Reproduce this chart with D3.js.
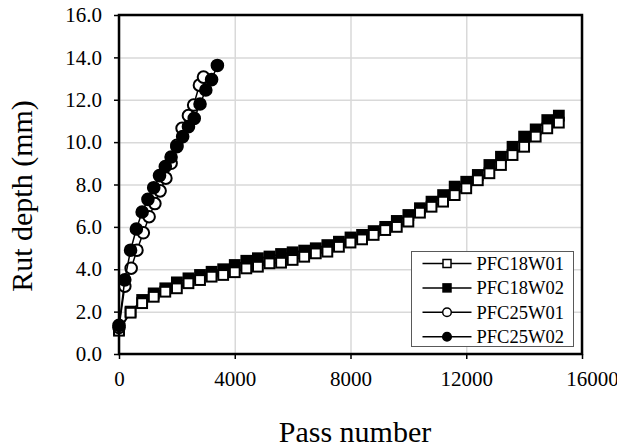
<!DOCTYPE html>
<html>
<head>
<meta charset="utf-8">
<script src="https://cdn.jsdelivr.net/npm/d3@7"></script>
<style>
  html, body { margin: 0; padding: 0; background: #fff; }
  svg { display: block; }
</style>
</head>
<body>
<svg id="chart" width="617" height="448"></svg>
<script>
// Pass numbers for each series
var passes18 = [0, 400, 800, 1200, 1600, 2000, 2400, 2800, 3200, 3600, 4000, 4400, 4800, 5200,
    5600, 6000, 6400, 6800, 7200, 7600, 8000, 8400, 8800, 9200, 9600, 10000, 10400, 10800,
    11200, 11600, 12000, 12400, 12800, 13200, 13600, 14000, 14400, 14800, 15200];
var passes25W01 = [0, 200, 420, 620, 840, 1040, 1240, 1420, 1620, 1800, 2000, 2180, 2400, 2580, 2780, 2920];
var passes25W02 = [0, 200, 400, 600, 800, 1000, 1200, 1400, 1600, 1800, 2000, 2200, 2400, 2600, 2800, 3000, 3200, 3400];

// Rut depth (mm)
var rutPFC18W01 = [1.1, 1.95, 2.4, 2.7, 2.94, 3.1, 3.34, 3.49, 3.65, 3.73, 3.86, 4.04, 4.12, 4.28,
    4.31, 4.44, 4.59, 4.75, 4.83, 5.06, 5.26, 5.41, 5.62, 5.85, 6.0, 6.25, 6.67, 6.95,
    7.19, 7.5, 7.82, 8.2, 8.53, 8.92, 9.39, 9.78, 10.26, 10.65, 10.92];
var rutPFC18W02 = [1.15, 2.0, 2.55, 2.86, 3.1, 3.38, 3.57, 3.73, 3.88, 4.0, 4.2, 4.4, 4.52, 4.6,
    4.72, 4.8, 4.88, 4.99, 5.14, 5.3, 5.5, 5.62, 5.8, 6.0, 6.28, 6.56, 6.88, 7.19,
    7.5, 7.9, 8.13, 8.45, 8.92, 9.31, 9.78, 10.26, 10.6, 11.04, 11.25];
var rutPFC25W01 = [1.25, 3.2, 4.05, 4.9, 5.72, 6.48, 7.1, 7.7, 8.3, 9.0, 9.85, 10.65, 11.25, 11.75, 12.69, 13.07];
var rutPFC25W02 = [1.35, 3.5, 4.9, 5.9, 6.7, 7.3, 7.85, 8.42, 8.85, 9.3, 9.78, 10.26, 10.73, 11.12,
    11.8, 12.46, 12.95, 13.62];

var xTicks = [0, 4000, 8000, 12000, 16000];
var yTicks = [0, 2, 4, 6, 8, 10, 12, 14, 16];

var seriesNames = ["PFC18W01", "PFC18W02", "PFC25W01", "PFC25W02"];
var seriesShapes = ["square", "square", "circle", "circle"];
var seriesFilled = [false, true, false, true];

var FONT = "Liberation Serif";

function init() {
    var w = 617;
    var h = 448;
    var margin = { top: 15, right: 35, bottom: 94, left: 119 };
    var width = w - margin.left - margin.right,
        height = h - margin.top - margin.bottom;

    var svg = d3.select("#chart");

    var x = d3.scaleLinear().domain([0, 16000]).range([0, width]);
    var y = d3.scaleLinear().domain([0, 16]).range([height, 0]);

    var g = svg.append("g")
        .attr("transform", `translate(${margin.left},${margin.top})`);

    // Gridlines
    g.append("g")
        .attr("class", "grid")
        .call(d3.axisLeft(y).tickValues(yTicks).tickSize(-width).tickFormat(""))
        .call(s => s.select(".domain").remove())
        .selectAll("line").attr("stroke", "#d9d9d9").attr("stroke-width", 1.5);
    g.append("g")
        .attr("class", "grid")
        .attr("transform", `translate(0,${height})`)
        .call(d3.axisBottom(x).tickValues(xTicks).tickSize(-height).tickFormat(""))
        .call(s => s.select(".domain").remove())
        .selectAll("line").attr("stroke", "#d9d9d9").attr("stroke-width", 1.5);

    // Series data
    var series = [
        { name: seriesNames[0], xs: passes18, ys: rutPFC18W01 },
        { name: seriesNames[1], xs: passes18, ys: rutPFC18W02 },
        { name: seriesNames[2], xs: passes25W01, ys: rutPFC25W01 },
        { name: seriesNames[3], xs: passes25W02, ys: rutPFC25W02 }
    ].map((s, i) => ({
        name: s.name,
        shape: seriesShapes[i],
        filled: seriesFilled[i],
        points: s.xs.map((p, j) => ({ x: p, y: s.ys[j] }))
    }));

    var line = d3.line().x(d => x(d.x)).y(d => y(d.y));

    // draw order: filled squares, open squares, open circles, filled circles
    var order = [1, 0, 2, 3];
    order.forEach(i => {
        var s = series[i];
        var sg = g.append("g").attr("class", "series");
        sg.append("path")
            .datum(s.points)
            .attr("d", line)
            .attr("fill", "none")
            .attr("stroke", "#000")
            .attr("stroke-width", 1.5);
        drawMarkers(sg, s, 9.8, 5.8, 2);
    });

    function drawMarkers(sel, s, side, r, sw) {
        if (s.shape === "square") {
            sel.selectAll("rect.mk")
                .data(s.points)
                .enter().append("rect")
                .attr("class", "mk")
                .attr("x", d => x(d.x) - side / 2)
                .attr("y", d => y(d.y) - side / 2)
                .attr("width", side)
                .attr("height", side)
                .attr("fill", s.filled ? "#000" : "#fff")
                .attr("stroke", "#000")
                .attr("stroke-width", sw);
        } else {
            sel.selectAll("circle.mk")
                .data(s.points)
                .enter().append("circle")
                .attr("class", "mk")
                .attr("cx", d => x(d.x))
                .attr("cy", d => y(d.y))
                .attr("r", r)
                .attr("fill", s.filled ? "#000" : "#fff")
                .attr("stroke", "#000")
                .attr("stroke-width", sw);
        }
    }

    // Axes
    var yAxis = g.append("g")
        .call(d3.axisLeft(y).tickValues(yTicks).tickSize(5).tickSizeOuter(0).tickPadding(12)
            .tickFormat(d3.format(".1f")));
    var xAxis = g.append("g")
        .attr("transform", `translate(0,${height})`)
        .call(d3.axisBottom(x).tickValues(xTicks).tickSize(5).tickSizeOuter(0).tickPadding(12)
            .tickFormat(d3.format("d")));
    [yAxis, xAxis].forEach(a => {
        a.attr("font-family", null);
        a.select(".domain").remove();
        a.selectAll("line").attr("stroke", "#000").attr("stroke-width", 1.5);
        a.selectAll("text")
            .attr("fill", "#000")
            .style("font-size", "21px")
            .style("font-family", FONT);
    });
    // last x label sits a little right of its tick and runs off the page
    xAxis.selectAll("text").filter(d => d === 16000).attr("dx", 10);

    // Plot frame
    g.append("rect")
        .attr("x", 0).attr("y", 0)
        .attr("width", width).attr("height", height)
        .attr("fill", "none")
        .attr("stroke", "#000")
        .attr("stroke-width", 2.5);

    // Axis titles
    svg.append("text")
        .attr("transform", `translate(32,196) rotate(-90)`)
        .attr("text-anchor", "middle")
        .style("font-family", FONT)
        .style("font-size", "30px")
        .text("Rut depth (mm)");
    svg.append("text")
        .attr("x", 355)
        .attr("y", 442)
        .attr("text-anchor", "middle")
        .style("font-family", FONT)
        .style("font-size", "30px")
        .text("Pass number");

    // Legend
    var lg = svg.append("g").attr("transform", "translate(411.5,251.5)");
    lg.append("rect")
        .attr("width", 162).attr("height", 95)
        .attr("fill", "#fff")
        .attr("stroke", "#595959")
        .attr("stroke-width", 1);
    series.forEach((s, i) => {
        var row = lg.append("g").attr("transform", `translate(0,${12 + i * 24.4})`);
        row.append("line")
            .attr("x1", 11).attr("x2", 60)
            .attr("y1", 0).attr("y2", 0)
            .attr("stroke", "#000").attr("stroke-width", 1.5);
        if (s.shape === "square") {
            row.append("rect")
                .attr("x", 35.5 - 4).attr("y", -4)
                .attr("width", 8).attr("height", 8)
                .attr("fill", s.filled ? "#000" : "#fff")
                .attr("stroke", "#000").attr("stroke-width", 1.5);
        } else {
            row.append("circle")
                .attr("cx", 35.5).attr("cy", 0).attr("r", 4.3)
                .attr("fill", s.filled ? "#000" : "#fff")
                .attr("stroke", "#000").attr("stroke-width", 1.5);
        }
        row.append("text")
            .attr("x", 65)
            .attr("y", 6.5)
            .style("font-family", FONT)
            .style("font-size", "18.5px")
            .text(s.name);
    });
}

window.onload = init;
</script>
</body>
</html>
